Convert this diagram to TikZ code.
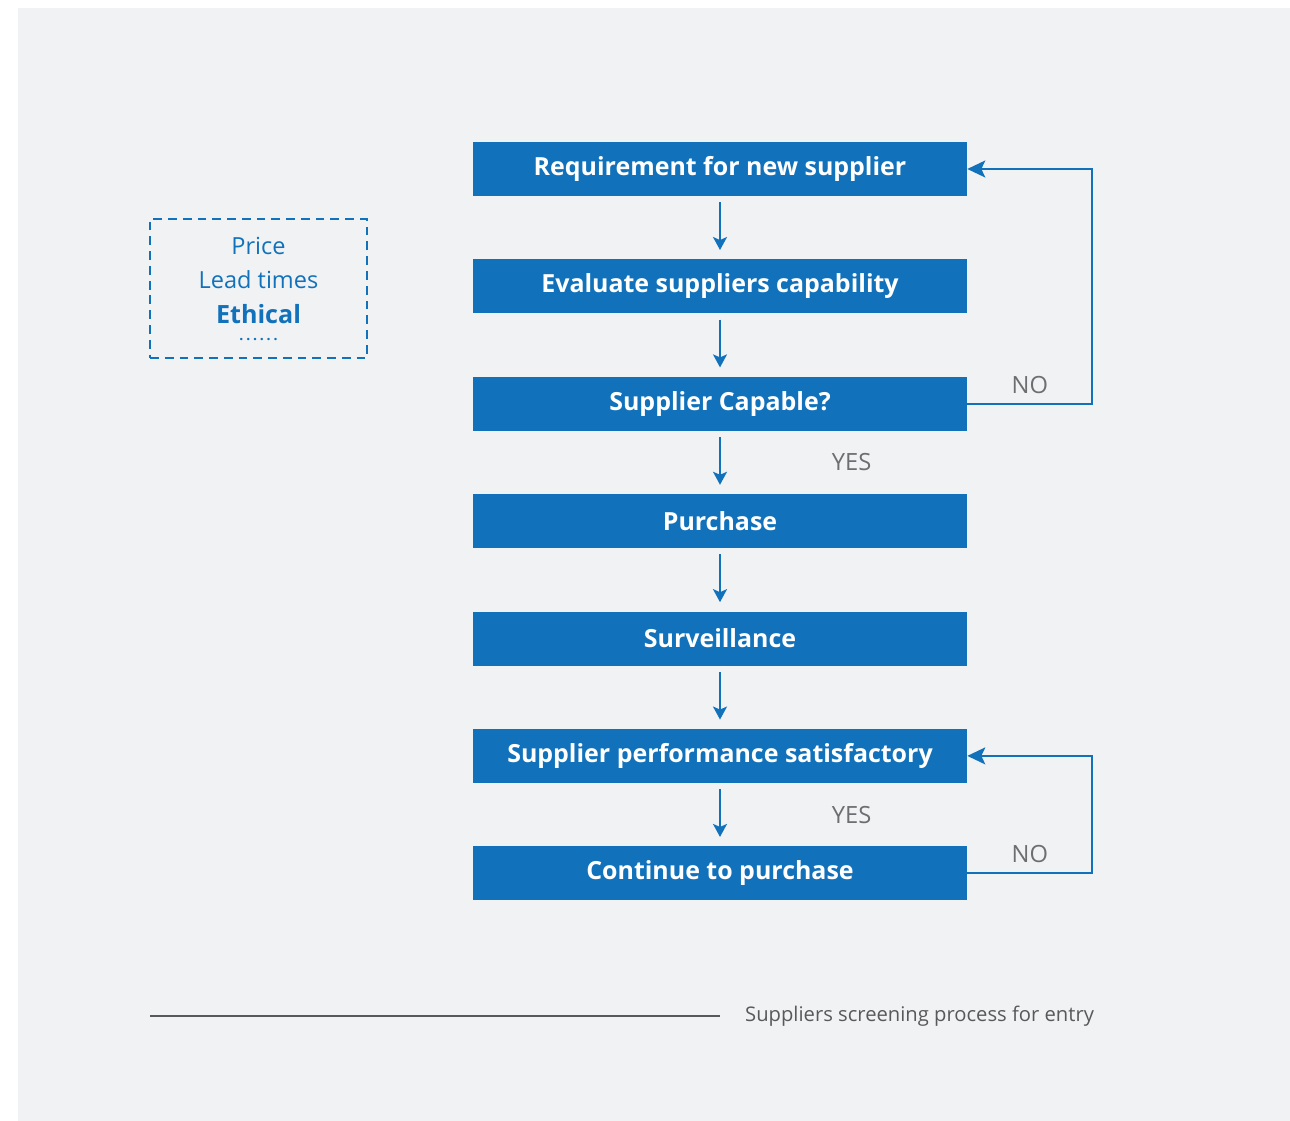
\documentclass[tikz,border=0pt]{standalone}
\usepackage{fontspec}
\setmainfont{Open Sans}
\usetikzlibrary{positioning,arrows.meta}

\definecolor{boxblue}{HTML}{1172BB}
\definecolor{bggray}{HTML}{F1F2F4}
\definecolor{labelgray}{HTML}{6D6E71}
\definecolor{rulegray}{HTML}{58595B}

\begin{document}
\begin{tikzpicture}[
	x=0.02cm, y=-0.02cm,
	node distance=1.254cm,
	stepbox/.style={rectangle, fill=boxblue, text=white, minimum width=9.88cm, minimum height=1.08cm, inner sep=0pt, font=\fontsize{14.2}{16}\selectfont\bfseries},
	arrow/.style={-{Stealth[length=0.26cm, width=0.28cm, inset=0.06cm]}, boxblue, line width=1.1pt, shorten <=0.12cm, shorten >=0.18cm},
	loopback/.style={-{Stealth[length=0.36cm, width=0.34cm, inset=0.08cm]}, boxblue, line width=1.1pt},
	answer/.style={text=labelgray, font=\fontsize{13.5}{15}\selectfont}
	]
	% Hintergrund
	\useasboundingbox (0,0) rectangle (1290,1121);
	\fill[bggray] (18,8) rectangle (1290,1121);

	% Schritte
	\node[stepbox] (req) at (720,169) {Requirement for new supplier};
	\node[stepbox, below=of req] (eval) {Evaluate suppliers capability};
	\node[stepbox, below=of eval] (capable) {Supplier Capable?};
	\node[stepbox, below=of capable] (purchase) {Purchase};
	\node[stepbox, below=of purchase] (surv) {Surveillance};
	\node[stepbox, below=of surv] (perf) {Supplier performance satisfactory};
	\node[stepbox, below=of perf] (cont) {Continue to purchase};

	% Pfeile nach unten
	\draw[arrow] (req) -- (eval);
	\draw[arrow] (eval) -- (capable);
	\draw[arrow] (capable) -- node[answer, right=2.1cm] {YES} (purchase);
	\draw[arrow] (purchase) -- (surv);
	\draw[arrow] (surv) -- (perf);
	\draw[arrow] (perf) -- node[answer, right=2.1cm] {YES} (cont);

	% Rueckfuehrung NO
	\draw[loopback] (capable.east) -- node[answer, above=2pt] {NO} ++(125,0) |- (req.east);
	\draw[loopback] (cont.east) -- node[answer, above=2pt] {NO} ++(125,0) |- (perf.east);

	% Kriterien
	\node[draw=boxblue, dashed, dash pattern=on 5pt off 3.4pt, line width=1.1pt, text=boxblue,
		minimum width=4.34cm, minimum height=2.78cm, align=center,
		font=\fontsize{13.4}{19.8}\selectfont] (criteria) at (258.5,288.5)
		{Price\\Lead times\\[0pt]{\fontsize{14.3}{19}\selectfont\bfseries Ethical}\\[-10.5pt]{\fontsize{8}{10}\selectfont\bfseries\addfontfeature{LetterSpace=20}......}};

	% Legende
	\coordinate (rulestart) at (150,1016);
	\draw[rulegray, line width=0.6pt] (rulestart) -- ++(570,0) coordinate (ruleend);
	\node[anchor=west, text=rulegray, font=\fontsize{11.5}{13}\selectfont, right=0.38cm of ruleend] (caption) {Suppliers screening process for entry};
\end{tikzpicture}
\end{document}
